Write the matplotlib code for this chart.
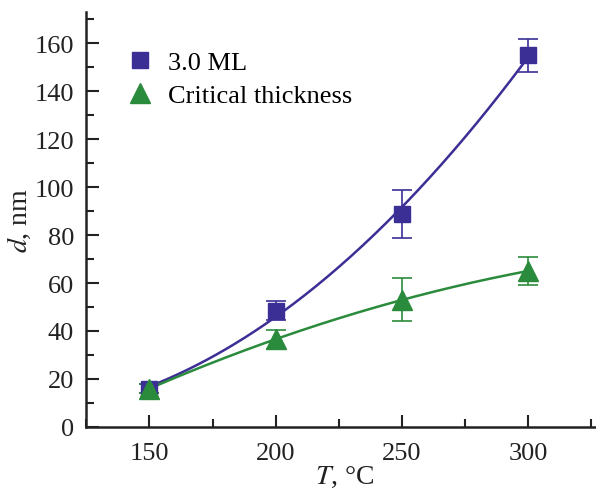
import numpy as np
import matplotlib.pyplot as plt
from matplotlib.ticker import MultipleLocator

plt.rcParams['font.family'] = ['Liberation Serif', 'DejaVu Serif']
plt.rcParams['mathtext.fontset'] = 'stix'

# growth temperatures, C
temps = [150, 200, 250, 300]

# thickness at 3.0 ML and critical thickness, nm
d_ml = [16, 48.5, 89, 155]
d_ml_err = [2, 4, 10, 7]
d_crit = [16, 36.5, 53, 65]
d_crit_err = [2, 4, 9, 6]

blue = '#3b2f96'
green = '#2b8b3c'

fig = plt.figure(figsize=(5.96, 4.89), dpi=100)
ax = fig.add_axes([0.145, 0.125, 0.855, 0.848])

# smooth fits through the measured points
tt = np.linspace(150, 300, 200)
ax.plot(tt, np.polyval(np.polyfit(temps, d_ml, 2), tt), color=blue, lw=1.8)
ax.plot(tt, np.polyval(np.polyfit(temps, d_crit, 2), tt), color=green, lw=1.8)

ax.errorbar(temps, d_ml, yerr=d_ml_err, fmt='s', color=blue, ms=11.5,
            capsize=7, elinewidth=1.2, capthick=1.2, label='3.0 ML')
ax.errorbar(temps, d_crit, yerr=d_crit_err, fmt='^', color=green, ms=14,
            capsize=7, elinewidth=1.2, capthick=1.2, label='Critical thickness')

ax.set_xlim(125, 327)
ax.set_ylim(0, 173)
ax.xaxis.set_major_locator(MultipleLocator(50))
ax.xaxis.set_minor_locator(MultipleLocator(25))
ax.yaxis.set_major_locator(MultipleLocator(20))
ax.yaxis.set_minor_locator(MultipleLocator(10))
ax.set_xticks([150, 200, 250, 300])

for s in ['top', 'right']:
    ax.spines[s].set_visible(False)
for s in ['left', 'bottom']:
    ax.spines[s].set_linewidth(1.8)
    ax.spines[s].set_color('#222222')

ax.tick_params(which='both', direction='in', width=1.5, colors='#222222',
               labelsize=19, labelcolor='#222222')
ax.tick_params(which='major', length=9)
ax.tick_params(axis='x', which='major', pad=11)
ax.tick_params(axis='y', which='major', pad=9)
ax.tick_params(which='minor', length=6)

ax.set_xlabel('$\\it{T}$, °C', fontsize=20, color='#222222')
ax.xaxis.set_label_coords(0.506, -0.09)
ax.set_ylabel('$\\it{d}$, nm', fontsize=20, color='#222222', labelpad=1)

handles, labels = ax.get_legend_handles_labels()
handles = [h[0] for h in handles]
ax.legend(handles, labels, loc='upper left', bbox_to_anchor=(0.03, 0.965),
          frameon=False, fontsize=19, handletextpad=0.5, labelspacing=0.36,
          handlelength=1.1)

fig.savefig('out.png', dpi=100)
